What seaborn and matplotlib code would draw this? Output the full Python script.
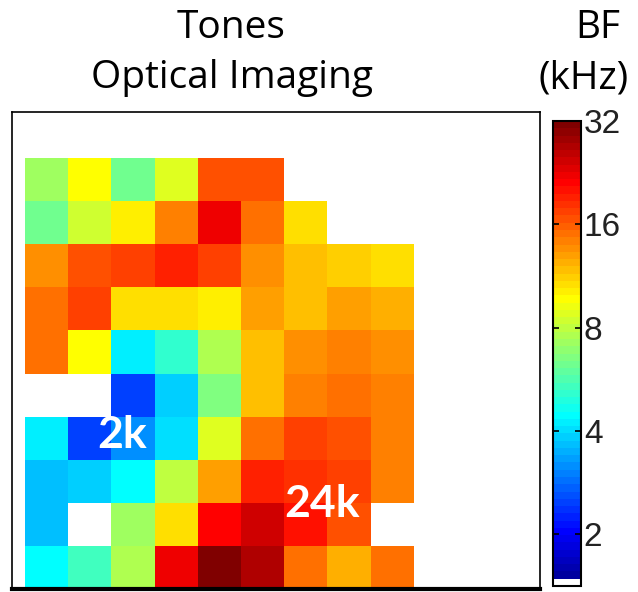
import numpy as np
import pandas as pd
import matplotlib
matplotlib.use("Agg")
import matplotlib.pyplot as plt
from matplotlib.colors import ListedColormap, LogNorm
import seaborn as sns

# Best frequency (kHz) per imaging pixel, rows top to bottom, columns left to right
nan = np.nan
row0 = [7.24, 9.70, 6.25, 8.80, 16.57, 16.57, nan, nan, nan]
row1 = [6.25, 8.38, 10.18, 14.32, 22.21, 15.04, 10.69, nan, nan]
row2 = [13.64, 16.57, 17.40, 19.18, 17.40, 13.64, 11.78, 11.22, 10.69]
row3 = [15.04, 17.40, 10.69, 10.69, 10.18, 12.99, 11.78, 12.99, 12.37]
row4 = [15.04, 9.70, 4.23, 5.15, 7.60, 11.78, 13.64, 14.32, 13.64]
row5 = [nan, nan, 2.48, 3.84, 6.57, 11.78, 14.32, 15.04, 14.32]
row6 = [4.23, 2.48, 3.16, 4.03, 8.80, 15.04, 17.40, 16.57, 14.32]
row7 = [3.66, 3.84, 4.45, 7.98, 12.99, 19.18, 18.27, 17.40, 14.32]
row8 = [3.66, nan, 7.24, 10.69, 21.15, 24.48, 20.14, 16.57, nan]
row9 = [4.45, 5.40, 7.60, 22.21, 31.23, 26.99, 15.04, 12.37, 15.04]

cbar_ticks = [2, 4, 8, 16, 32]
cbar_ticklabels = ["2", "4", "8", "16", "32"]
bf_min, bf_max = 2 ** 0.5, 32

# Point annotations: (text, column, row)
annotations = [("2k", 2.25, 6.43), ("24k", 6.87, 8.03)]

grid = pd.DataFrame([row0, row1, row2, row3, row4, row5, row6, row7, row8, row9])


def jet64():
    """64-level jet colormap (MATLAB style)."""
    m, n = 64, 16
    u = np.r_[np.arange(1, n + 1) / n, np.ones(n - 1), np.arange(n, 0, -1) / n]
    g = 8 + np.arange(1, len(u) + 1)
    r = g + n
    b = g - n
    J = np.zeros((m, 3))
    J[r[r <= m] - 1, 0] = u[r <= m]
    J[g[g <= m] - 1, 1] = u[g <= m]
    J[b[b >= 1] - 1, 2] = u[b >= 1]
    return J


colors = jet64()
colors[0] = [1, 1, 1]
cmap = ListedColormap(colors)
norm = LogNorm(vmin=bf_min, vmax=bf_max)

fig = plt.figure(figsize=(6.38, 5.92), dpi=100)
ax = fig.add_axes([12 / 638, 3 / 592, 528 / 638, 477 / 592])
cax = fig.add_axes([553 / 638, 6 / 592, 28 / 638, 465 / 592])

sns.heatmap(grid, cmap=cmap, norm=norm, ax=ax, cbar_ax=cax,
            xticklabels=False, yticklabels=False)

ax.set_xlim(-0.30, 11.92)
ax.set_ylim(10, -1.07)
ax.set_xlabel("")
ax.set_ylabel("")
for name, sp in ax.spines.items():
    sp.set_visible(True)
    sp.set_color("black")
    sp.set_linewidth(1.2)
ax.spines["bottom"].set_linewidth(3)

for text, cx, cy in annotations:
    ax.text(cx, cy, text, color="white", fontsize=32, fontweight="bold",
            family="Lato", ha="center", va="center")

cbar = ax.collections[0].colorbar
cbar.outline.set_linewidth(1.5)
cbar.outline.set_edgecolor("black")
cax.yaxis.set_minor_locator(matplotlib.ticker.NullLocator())
cax.set_yticks(cbar_ticks)
cax.set_yticklabels(cbar_ticklabels, family="Liberation Sans", fontsize=24,
                    color="#222222")
cax.tick_params(axis="y", direction="in", left=True, right=True, length=4,
                width=1.2, labelleft=False, labelright=True, pad=2)

title_kw = dict(ha="center", va="baseline", fontsize=28, family="Open Sans")
fig.text(231 / 638, 1 - 38 / 592, "Tones", **title_kw)
fig.text(232 / 638, 1 - 88 / 592, "Optical Imaging", **title_kw)
fig.text(598 / 638, 1 - 38 / 592, "BF", **title_kw)
fig.text(584 / 638, 1 - 88 / 592, "(kHz)", **title_kw)

fig.savefig("out.png", dpi=100)
